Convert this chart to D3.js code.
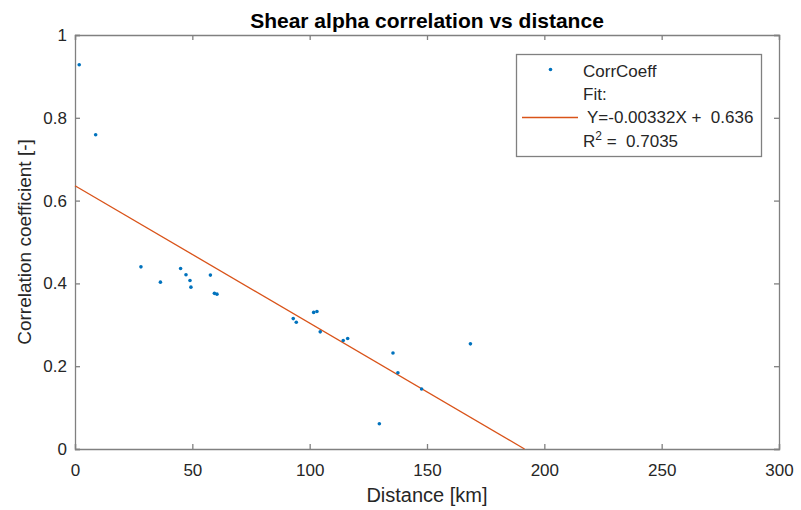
<!DOCTYPE html>
<html>
<head>
<meta charset="utf-8">
<script src="https://cdn.jsdelivr.net/npm/d3@7"></script>
<style>
  body { margin: 0; background: #fff; }
  text { font-family: "Liberation Sans", Arial, Helvetica, sans-serif; white-space: pre; }
</style>
</head>
<body>
<div class="chart"></div>
<script>
// distance [km] and correlation coefficient
const distance = [1.8, 8.8, 28.1, 36.4, 45.0, 47.3, 49.0, 49.4, 57.7, 59.4, 60.5,
  93.0, 94.3, 101.7, 103.1, 104.5, 114.3, 116.2, 129.7, 135.5, 137.6, 147.7, 168.5];
const corrCoeff = [0.928, 0.759, 0.440, 0.403, 0.436, 0.421, 0.407, 0.391, 0.420, 0.376, 0.374,
  0.315, 0.306, 0.330, 0.332, 0.283, 0.262, 0.267, 0.061, 0.232, 0.184, 0.145, 0.254];

// linear fit
const slope = -0.00332, intercept = 0.636;
const fitX = [0, -intercept / slope];

const xTicks = [0, 50, 100, 150, 200, 250, 300];
const yTicks = [0, 0.2, 0.4, 0.6, 0.8, 1];

const W = 801, H = 510;
const margin = {top: 35, right: 22, bottom: 61, left: 75},
    width = W - margin.left - margin.right,
    height = H - margin.top - margin.bottom;

const svg = d3.select(".chart")
  .append("svg")
    .attr("width", W)
    .attr("height", H);

const g = svg.append("g")
    .attr("transform", `translate(${margin.left},${margin.top})`);

const x = d3.scaleLinear().domain([0, 300]).range([0, width]);
const y = d3.scaleLinear().domain([0, 1]).range([height, 0]);

const axisColor = "#808080", textColor = "#262626";

// bottom axis
const xa = g.append("g")
  .attr("transform", `translate(0,${height})`)
  .call(d3.axisBottom(x).tickValues(xTicks).tickSize(-5).tickPadding(15).tickFormat(d3.format("d")));
// left axis
const ya = g.append("g")
  .call(d3.axisLeft(y).tickValues(yTicks).tickSize(-5).tickPadding(8).tickFormat(d => d));
// mirrored top / right
const xt = g.append("g")
  .call(d3.axisTop(x).tickValues(xTicks).tickSize(-5).tickFormat(""));
const yr = g.append("g")
  .attr("transform", `translate(${width},0)`)
  .call(d3.axisRight(y).tickValues(yTicks).tickSize(-5).tickFormat(""));

[xa, ya, xt, yr].forEach(a => {
  a.selectAll("path").attr("stroke", axisColor).attr("stroke-width", 1.3);
  a.selectAll("line").attr("stroke", axisColor).attr("stroke-width", 1.3);
  a.selectAll("text").attr("fill", textColor).attr("font-size", "17px");
});

// fit line
g.append("line")
  .attr("x1", x(fitX[0])).attr("y1", y(intercept + slope * fitX[0]))
  .attr("x2", x(fitX[1])).attr("y2", y(intercept + slope * fitX[1]))
  .attr("stroke", "#D95319")
  .attr("stroke-width", 1.3);

// points
g.selectAll("circle.pt")
  .data(distance)
  .join("circle")
    .attr("class", "pt")
    .attr("cx", d => x(d))
    .attr("cy", (d, i) => y(corrCoeff[i]))
    .attr("r", 1.8)
    .attr("fill", "#0072BD");

// title and labels
svg.append("text")
  .attr("x", margin.left + width / 2).attr("y", 28)
  .attr("text-anchor", "middle")
  .attr("font-size", "21px").attr("font-weight", "bold")
  .attr("fill", "#000")
  .text("Shear alpha correlation vs distance");

svg.append("text")
  .attr("x", margin.left + width / 2).attr("y", 502)
  .attr("text-anchor", "middle")
  .attr("font-size", "20px").attr("fill", textColor)
  .text("Distance [km]");

svg.append("text")
  .attr("transform", `translate(31,${margin.top + height / 2}) rotate(-90)`)
  .attr("text-anchor", "middle")
  .attr("font-size", "19px").attr("fill", textColor)
  .text("Correlation coefficient [-]");

// legend
const leg = svg.append("g");
leg.append("rect")
  .attr("x", 516.5).attr("y", 54.5).attr("width", 245).attr("height", 102)
  .attr("fill", "#fff").attr("stroke", axisColor).attr("stroke-width", 1.3);
leg.append("circle")
  .attr("cx", 550.5).attr("cy", 69.5).attr("r", 1.8).attr("fill", "#0072BD");
leg.append("line")
  .attr("x1", 522).attr("x2", 578).attr("y1", 117.5).attr("y2", 117.5)
  .attr("stroke", "#D95319").attr("stroke-width", 1.3);
const lt = [
  {t: "CorrCoeff", x: 583, y: 76.5},
  {t: "Fit:", x: 583, y: 100},
  {t: `Y=${slope.toFixed(5)}X +  ${intercept}`, x: 587, y: 123}
];
leg.selectAll("text.lt")
  .data(lt)
  .join("text")
    .attr("class", "lt")
    .attr("x", d => d.x).attr("y", d => d.y)
    .attr("font-size", "17px").attr("fill", textColor)
    .text(d => d.t);
const r2 = leg.append("text")
  .attr("x", 583).attr("y", 147)
  .attr("font-size", "17px").attr("fill", textColor);
r2.append("tspan").text("R");
r2.append("tspan").attr("dy", -7).attr("font-size", "12px").text("2");
r2.append("tspan").attr("dy", 7).text(" =  0.7035");
</script>
</body>
</html>
